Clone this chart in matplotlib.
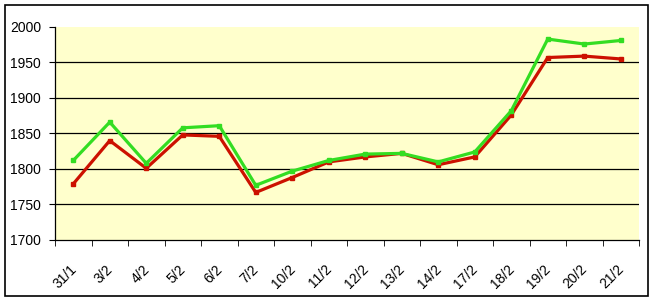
"""
Two price series over trading days, Excel-style line chart.
"""

import matplotlib
matplotlib.use("Agg")
import matplotlib.pyplot as plt
from matplotlib.patches import Rectangle
from matplotlib.transforms import ScaledTranslation

dates = ["31/1", "3/2", "4/2", "5/2", "6/2", "7/2", "10/2", "11/2",
         "12/2", "13/2", "14/2", "17/2", "18/2", "19/2", "20/2", "21/2"]
green_vals = [1812, 1866, 1808, 1858, 1861, 1777, 1797, 1812,
              1821, 1822, 1810, 1824, 1882, 1983, 1976, 1981]
red_vals = [1779, 1840, 1801, 1848, 1846, 1767, 1788, 1810,
            1817, 1822, 1806, 1817, 1876, 1957, 1959, 1955]
y_ticks = [1700, 1750, 1800, 1850, 1900, 1950, 2000]

font = ["Liberation Sans Narrow", "Liberation Sans", "DejaVu Sans"]

fig = plt.figure(figsize=(6.55, 3.01), dpi=100)
fig.patches.append(Rectangle((5 / 655, 5 / 301), 643 / 655, 291 / 301,
                             transform=fig.transFigure, fill=False,
                             edgecolor="black", linewidth=1.2))

ax = fig.add_axes([55 / 655, 61 / 301, 584 / 655, 213 / 301])
ax.set_facecolor("#FFFFCC")

x = list(range(len(dates)))
ax.plot(x, green_vals, color="#33DD22", linewidth=2.3, marker="s",
        markersize=3, zorder=4)
ax.plot(x, red_vals, color="#CC1100", linewidth=2.3, marker="s",
        markersize=3, zorder=3)

ax.set_xlim(-0.5, len(dates) - 0.5)
ax.set_ylim(1700, 2000)

for v in y_ticks[1:-1]:
    ax.axhline(v, color="black", linewidth=0.9, zorder=1)

ax.set_yticks(y_ticks)
ax.set_yticklabels([str(v) for v in y_ticks], family=font, fontsize=10)
ax.set_xticks(x)
ax.set_xticklabels(dates, family=font, fontsize=10, rotation=45,
                   ha="right", va="top", rotation_mode="anchor")
ax.set_xticks([i - 0.5 for i in range(len(dates) + 1)], minor=True)
ax.tick_params(axis="x", which="major", length=0, pad=16)
ax.tick_params(axis="x", which="minor", length=4, direction="out")
ax.tick_params(axis="y", length=4, direction="out", pad=6)

# nudge the slanted date labels left, like Excel places them
shift = ScaledTranslation(-4 / 100, 0, fig.dpi_scale_trans)
for lab in ax.get_xticklabels():
    lab.set_transform(lab.get_transform() + shift)

for side in ("top", "right"):
    ax.spines[side].set_visible(False)
for side in ("left", "bottom"):
    ax.spines[side].set_linewidth(0.9)

fig.savefig("out.png", dpi=100)
